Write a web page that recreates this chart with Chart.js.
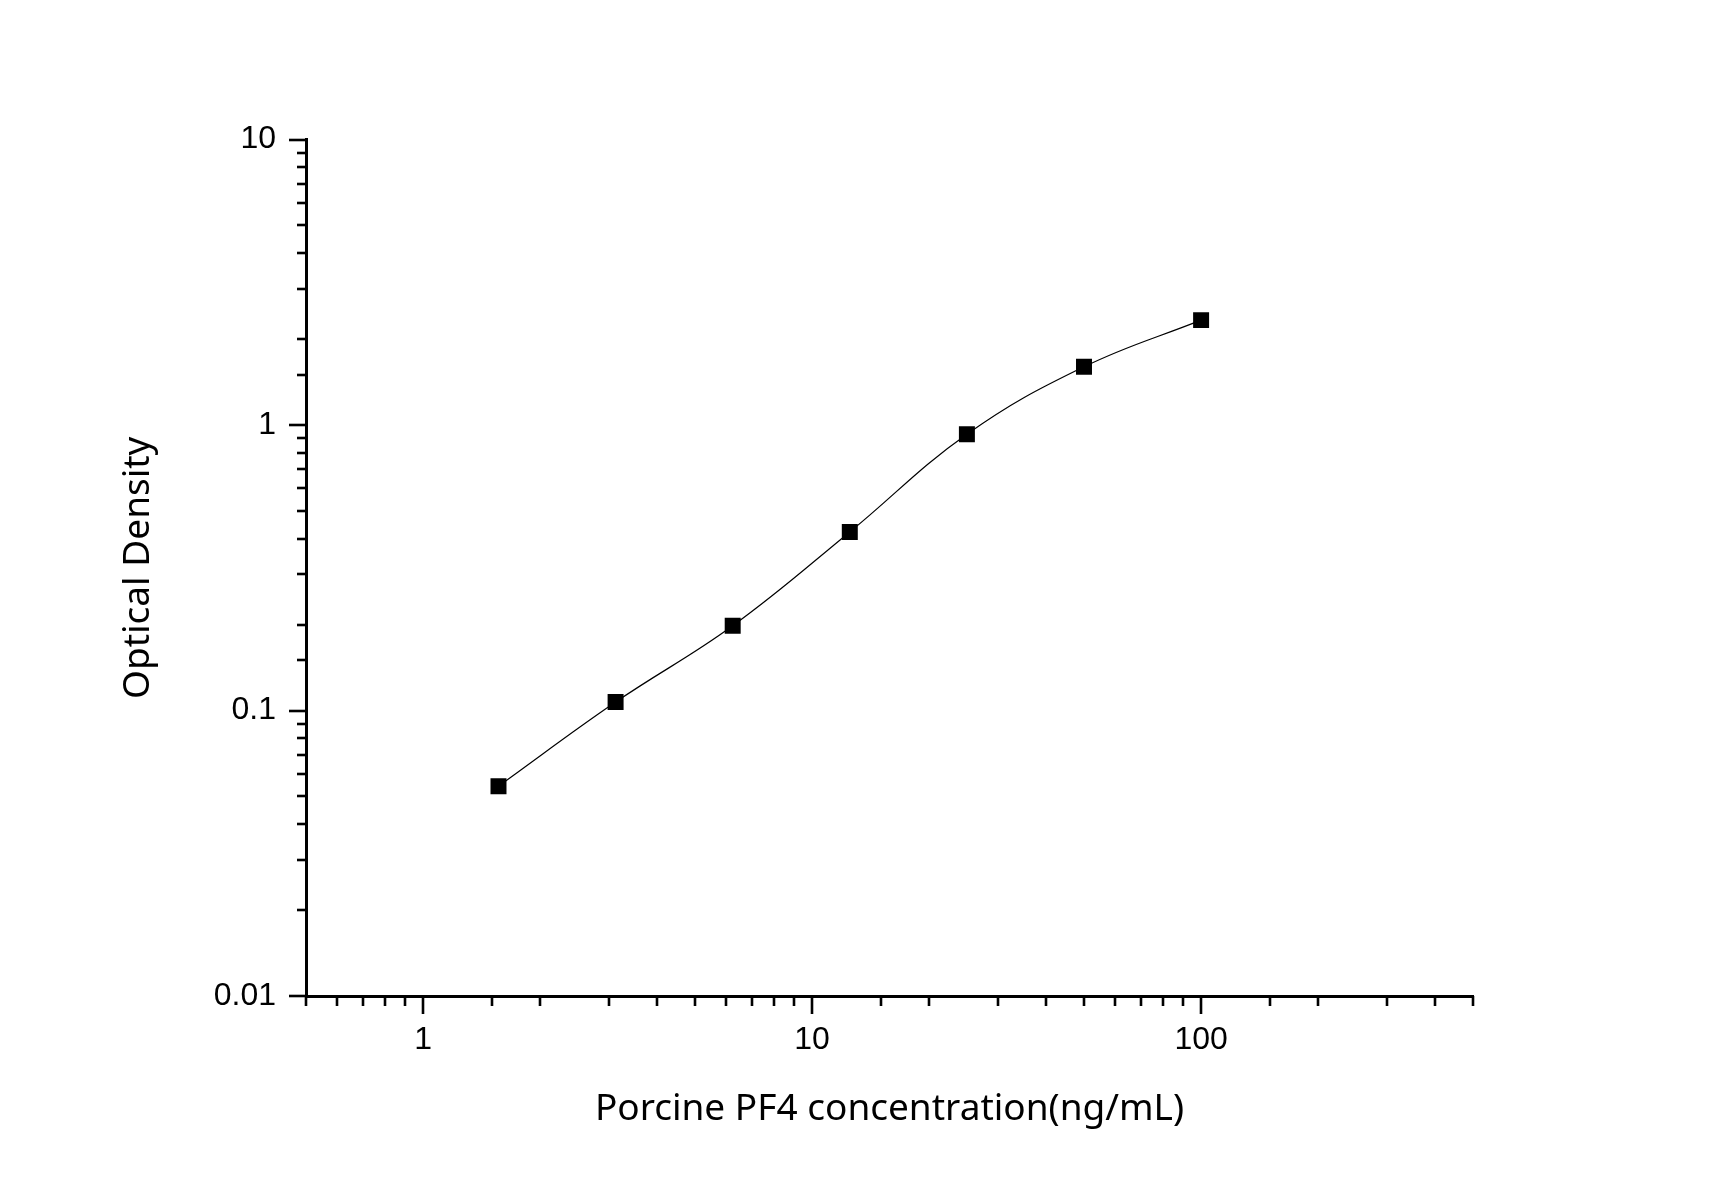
<!DOCTYPE html>
<html>
<head>
<meta charset="utf-8">
<script src="https://cdn.jsdelivr.net/npm/chart.js@4"></script>
<style>
  html, body { margin: 0; padding: 0; background: #fff; }
  #wrap { width: 1710px; height: 1194px; }
</style>
</head>
<body>
<div id="wrap"><canvas id="curve"></canvas></div>
<script>
// standard curve points (concentration, OD)
const concentration = [1.5625, 3.125, 6.25, 12.5, 25, 50, 100];
const opticalDensity = [0.0543, 0.107, 0.198, 0.422, 0.928, 1.599, 2.33];

const xRange = [0.5, 500];
const yRange = [0.01, 10];
const xTitle = 'Porcine PF4 concentration(ng/mL)';
const yTitle = 'Optical Density';

const isDecade = v => Math.abs(Math.log10(v) - Math.round(Math.log10(v))) < 1e-9;

// draw long ticks at decades, short ones in between
const tickMarks = {
  id: 'tickMarks',
  afterDraw(chart) {
    const ctx = chart.ctx;
    ctx.save();
    ctx.strokeStyle = '#000';
    ctx.lineWidth = 2.6;
    const x = chart.scales.x, y = chart.scales.y;
    x.ticks.forEach(t => {
      const px = Math.round(x.getPixelForValue(t.value));
      const len = isDecade(t.value) ? 18 : 10;
      ctx.beginPath();
      ctx.moveTo(px, x.top);
      ctx.lineTo(px, x.top + len);
      ctx.stroke();
    });
    y.ticks.forEach(t => {
      const py = Math.round(y.getPixelForValue(t.value));
      const len = isDecade(t.value) ? 17 : 9;
      ctx.beginPath();
      ctx.moveTo(y.right, py);
      ctx.lineTo(y.right - len, py);
      ctx.stroke();
    });
    ctx.restore();
  }
};

new Chart(document.getElementById('curve'), {
  type: 'scatter',
  data: {
    datasets: [{
      data: concentration.map((c, i) => ({ x: c, y: opticalDensity[i] })),
      showLine: true,
      borderColor: '#000',
      borderWidth: 1.2,
      tension: 0.4,
      pointStyle: 'rect',
      pointRadius: 11.3,
      pointBorderWidth: 0,
      pointBackgroundColor: '#000'
    }]
  },
  options: {
    responsive: true,
    maintainAspectRatio: false,
    animation: false,
    layout: { padding: { left: 0, top: 139.5, right: 237, bottom: 0 } },
    plugins: { legend: { display: false }, tooltip: { enabled: false } },
    scales: {
      x: {
        type: 'logarithmic',
        min: xRange[0],
        max: xRange[1],
        afterFit(s) { s.height = 198; },
        border: { display: true, color: '#000', width: 3 },
        grid: { drawOnChartArea: false, drawTicks: true, tickLength: 18, tickColor: 'rgba(0,0,0,0)' },
        ticks: {
          autoSkip: false,
          maxRotation: 0,
          padding: 7,
          color: '#000',
          font: { family: 'Liberation Sans', size: 32 },
          callback: v => isDecade(v) ? String(v) : ''
        },
        title: {
          display: true,
          text: xTitle,
          color: '#000',
          font: { family: 'Noto Sans', size: 37 },
          padding: { top: 0, bottom: 62 }
        }
      },
      y: {
        type: 'logarithmic',
        min: yRange[0],
        max: yRange[1],
        afterFit(s) { s.width = 306; },
        border: { display: true, color: '#000', width: 3 },
        grid: { drawOnChartArea: false, drawTicks: true, tickLength: 17, tickColor: 'rgba(0,0,0,0)' },
        ticks: {
          autoSkip: false,
          padding: 13,
          color: '#000',
          font: { family: 'Liberation Sans', size: 32 },
          callback: v => isDecade(v) ? String(v) : ''
        },
        title: {
          display: true,
          text: yTitle,
          color: '#000',
          font: { family: 'Noto Sans', size: 37 },
          padding: { top: 116, bottom: 0 }
        }
      }
    }
  },
  plugins: [tickMarks]
});
</script>
</body>
</html>
